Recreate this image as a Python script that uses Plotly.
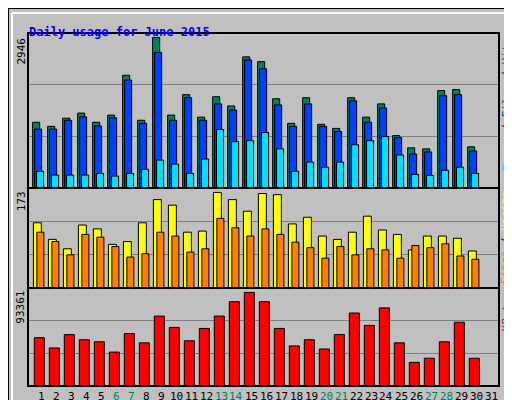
import plotly.graph_objects as go

days = list(range(1, 32))
hits = [1286, 1206, 1366, 1466, 1286, 1426, 2206, 1326, 2946, 1426, 1826, 1386, 1786, 1606, 2566,
        2473, 1746, 1266, 1766, 1246, 1166, 1766, 1386, 1646, 1026, 786, 766, 1906, 1926, 806, 0]
files = [1153, 1153, 1326, 1393, 1213, 1373, 2113, 1266, 2653, 1326, 1766, 1326, 1646, 1526, 2506,
         2333, 1626, 1206, 1646, 1206, 1106, 1706, 1286, 1566, 986, 666, 706, 1806, 1826, 726, 0]
pages = [327, 253, 253, 253, 287, 233, 287, 367, 547, 467, 287, 567, 1146, 906, 926,
         1086, 766, 327, 507, 407, 507, 846, 926, 1006, 647, 267, 247, 347, 407, 287, 0]
visits = [118, 88, 71, 114, 107, 79, 84, 118, 160, 150, 101, 103, 173, 160, 139,
          171, 169, 116, 128, 94, 88, 101, 130, 105, 97, 69, 94, 94, 90, 67, 0]
sites = [101, 84, 60, 97, 92, 75, 56, 62, 101, 94, 65, 71, 126, 109, 94,
         107, 97, 83, 73, 54, 75, 60, 71, 69, 54, 77, 73, 80, 58, 52, 0]
kbytes = [48220, 37960, 51300, 46170, 44120, 33860, 52330, 43090, 69770, 58480, 45140, 57450, 69770, 84130, 93361,
          84130, 57450, 40010, 46170, 36940, 51300, 72850, 60530, 77980, 43090, 23600, 27700, 44120, 63610, 27700, 0]
weekends = [6, 7, 13, 14, 20, 21, 27, 28]

GREEN, BLUE, CYAN = "#00805c", "#0040ff", "#00e0ff"
YELLOW, ORANGE, RED = "#ffff00", "#ff8000", "#ff0000"
MONO = "DejaVu Sans Mono"

def bars(y, color, off, w, yaxis):
    return go.Bar(x=days, y=y, offset=off, width=w, yaxis=yaxis,
                  marker=dict(color=color, line=dict(color="black", width=1)),
                  showlegend=False, hoverinfo="skip")

# px -> day units: 15px per day
fig = go.Figure([
    bars(hits, GREEN, -0.58, 0.47, "y"),
    bars(files, BLUE, -0.45, 0.47, "y"),
    bars(pages, CYAN, -0.32, 0.47, "y"),
    bars(visits, YELLOW, -0.53, 0.53, "y2"),
    bars(sites, ORANGE, -0.3, 0.47, "y2"),
    bars(kbytes, RED, -0.47, 0.67, "y3"),
])

top_max = 3033
mid_max = 181
bot_max = 97800

def yax(dom, rmax):
    return dict(domain=dom, range=[0, rmax], tickvals=[rmax / 3, 2 * rmax / 3],
                showticklabels=False, ticks="", gridcolor="#808080", gridwidth=1,
                zeroline=False, showline=False, anchor="x", fixedrange=True)

fig.update_layout(
    width=512, height=400, margin=dict(l=0, r=0, t=0, b=0),
    paper_bgcolor="#c0c0c0", plot_bgcolor="#c0c0c0", barmode="overlay",
    font=dict(family=MONO, size=11, color="black"),
    xaxis=dict(domain=[20 / 512, 491 / 512], range=[0.11, 31.51], anchor="y3",
               showticklabels=False, ticks="", showgrid=False,
               zeroline=False, fixedrange=True),
    yaxis=yax([0.55, 0.9375], top_max),
    yaxis2=yax([0.3, 0.55], mid_max),
    yaxis3=yax([0.055, 0.3], bot_max),
)

shapes = [
    dict(type="rect", xref="paper", yref="paper", x0=505 / 512, x1=510 / 512, y0=2 / 400, y1=395 / 400,
         fillcolor="#808080", line=dict(width=0), layer="below"),
    dict(type="rect", xref="paper", yref="paper", x0=5 / 512, x1=510 / 512, y0=2 / 400, y1=6 / 400,
         fillcolor="#808080", line=dict(width=0), layer="below"),
    dict(type="line", xref="paper", yref="paper", x0=4 / 512, x1=505 / 512, y0=395 / 400, y1=395 / 400,
         line=dict(color="white", width=2), layer="below"),
    dict(type="line", xref="paper", yref="paper", x0=4 / 512, x1=4 / 512, y0=6 / 400, y1=395 / 400,
         line=dict(color="white", width=2), layer="below"),
    dict(type="rect", xref="paper", yref="paper", x0=0, x1=1, y0=0, y1=1,
         line=dict(color="black", width=2), layer="below"),
]
for y0, y1 in [(0.55, 0.9375), (0.3, 0.55), (0.055, 0.3)]:
    shapes.append(dict(type="rect", xref="paper", yref="paper", x0=20 / 512, x1=491 / 512,
                       y0=y0, y1=y1, line=dict(color="black", width=2), layer="above"))
fig.update_layout(shapes=shapes)

ann = [
    dict(text="<b>Daily usage for June 2015</b>", x=19 / 512, y=385 / 400, xanchor="left",
         font=dict(color="#0000ff", size=12)),
    dict(text="2946", x=13 / 512, y=0.93, yanchor="top", textangle=-90),
    dict(text="173", x=13 / 512, y=0.547, yanchor="top", textangle=-90),
    dict(text="93361", x=13 / 512, y=0.297, yanchor="top", textangle=-90),
    dict(text='<span style="color:%s">Pages</span> / <span style="color:%s">Files</span> / '
              '<span style="color:%s">Hits</span>' % (CYAN, BLUE, GREEN),
         x=498 / 512, y=0.93, yanchor="top", textangle=-90),
    dict(text='<span style="color:%s">Sites</span> / <span style="color:%s">Visits</span>' % (ORANGE, YELLOW),
         x=498 / 512, y=0.547, yanchor="top", textangle=-90),
    dict(text="KBytes", x=498 / 512, y=0.297, yanchor="top", textangle=-90,
         font=dict(color=RED)),
]
for d in days:
    ann.append(dict(text=str(d), x=d, xref="x", y=12 / 400, yanchor="middle",
                    font=dict(size=11, color=GREEN if d in weekends else "black")))
for a in ann:
    a.setdefault("xref", "paper")
    a.setdefault("yref", "paper")
    a.setdefault("showarrow", False)
    a.setdefault("xanchor", "center")
fig.update_layout(annotations=ann)

fig.write_html("out.html")
